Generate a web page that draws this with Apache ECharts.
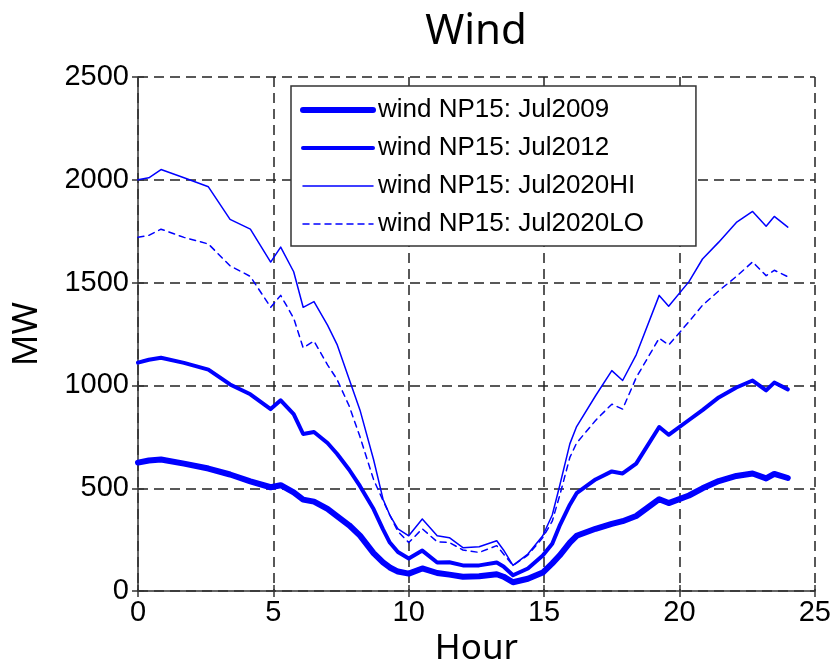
<!DOCTYPE html>
<html>
<head>
<meta charset="utf-8">
<title>Wind</title>
<script src="https://cdn.jsdelivr.net/npm/echarts@6/dist/echarts.min.js"></script>
<style>
	html, body {margin: 0; padding: 0; background: #fff;}
	#chart {width: 834px; height: 672px;}
</style>
</head>
<body>
<div id="chart"></div>
<script>
// hour of day (x)
var hours = [0, 0.4, 0.85, 1.7, 2.6, 3.4, 4.15, 4.9, 5.27, 5.75, 6.1, 6.5, 7.0, 7.35, 7.8, 8.2, 8.7, 9.05, 9.3, 9.6,
	10.0, 10.5, 11.05, 11.5, 12.0, 12.6, 13.25, 13.5, 13.85, 14.4, 14.95, 15.3, 15.57, 15.95, 16.2, 16.9, 17.5, 17.9, 18.4,
	19.25, 19.6, 20.35, 20.85, 21.45, 22.1, 22.7, 23.2, 23.5, 24.0];

// MW per series
var jul2009 = [625, 635, 640, 620, 596, 567, 534, 505, 515, 480, 445, 435, 400, 365, 320, 270, 185, 140, 115, 95,
	85, 110, 88, 80, 70, 72, 82, 70, 43, 60, 90, 135, 173, 236, 269, 303, 327, 340, 365,
	447, 428, 465, 500, 535, 560, 572, 548, 570, 550];
var jul2012 = [1111, 1125, 1135, 1110, 1077, 1005, 957, 885, 928, 861, 764, 774, 720, 668, 590, 510, 399, 300, 236, 190,
	159, 197, 139, 140, 125, 125, 139, 120, 77, 110, 173, 230, 317, 420, 476, 543, 582, 572, 620,
	798, 760, 832, 880, 942, 990, 1024, 976, 1014, 981];
var jul2020hi = [2000, 2010, 2050, 2010, 1966, 1808, 1760, 1600, 1673, 1553, 1380, 1408, 1293, 1200, 1030, 880, 640, 447, 370, 303,
	269, 351, 269, 260, 211, 216, 245, 200, 125, 180, 269, 370, 510, 716, 800, 950, 1072, 1024, 1149,
	1438, 1385, 1505, 1615, 1697, 1793, 1846, 1774, 1822, 1770];
var jul2020lo = [1721, 1730, 1760, 1720, 1688, 1582, 1530, 1380, 1438, 1327, 1183, 1216, 1100, 1030, 900, 750, 543, 440, 370, 290,
	236, 303, 240, 236, 200, 188, 221, 180, 125, 175, 260, 340, 462, 650, 720, 830, 909, 885, 1038,
	1230, 1197, 1310, 1390, 1460, 1530, 1601, 1534, 1560, 1529];

var names = ['wind NP15: Jul2009', 'wind NP15: Jul2012', 'wind NP15: Jul2020HI', 'wind NP15: Jul2020LO'];
var xTicks = [0, 5, 10, 15, 20, 25];
var yTicks = [0, 500, 1000, 1500, 2000, 2500];

var widths = [6, 4, 1.5, 1.5];
var types = ['solid', 'solid', 'solid', [6, 5]];

function pairs(ys) {
	return hours.map(function (h, i) { return [h, ys[i]]; });
}

function line(i, ys) {
	return {
		name: names[i],
		type: 'line',
		data: pairs(ys),
		symbol: 'none',
		lineStyle: {color: '#0000ff', width: widths[i], type: types[i], cap: 'round', join: 'round'},
		itemStyle: {color: '#0000ff'}
	};
}

var gridLine = {show: true, lineStyle: {color: '#222', type: [10, 6], width: 1.5}};
var tickFont = {color: '#000', fontFamily: 'Liberation Sans', fontSize: 29};
var innerTick = {show: true, inside: true, length: 6, lineStyle: {color: '#333', width: 1.5}};

var chart = echarts.init(document.getElementById('chart'));
chart.setOption({
	animation: false,
	backgroundColor: '#fff',
	title: {
		text: 'Wind', left: 471, top: 6, textAlign: 'center',
		textStyle: {fontFamily: 'Noto Sans', fontSize: 42, fontWeight: 'normal', color: '#000'}
	},
	grid: {left: 138, right: 18, top: 77, bottom: 76},
	legend: {
		orient: 'vertical', left: 291, top: 86,
		backgroundColor: '#fff', borderColor: '#333', borderWidth: 1.5,
		padding: [9, 52, 7, 9],
		itemWidth: 70, itemHeight: 14, itemGap: 8,
		// hide the marker, keep only the line sample
		itemStyle: {color: 'transparent', borderWidth: 0, opacity: 0},
		data: names.map(function (n, i) {
			return {name: n, lineStyle: {color: '#0000ff', width: widths[i], type: types[i], cap: 'round'}};
		}),
		textStyle: {fontFamily: 'Liberation Sans', fontSize: 26, color: '#000', lineHeight: 30}
	},
	xAxis: [{
		type: 'value', min: 0, max: 25, interval: 5,
		name: 'Hour', nameLocation: 'middle', nameGap: 38,
		nameTextStyle: {fontFamily: 'Noto Sans', fontSize: 35, color: '#000'},
		axisLine: {show: true, lineStyle: {color: '#333', width: 1.5}},
		axisTick: innerTick,
		axisLabel: Object.assign({margin: 7, formatter: function (v) { return xTicks.indexOf(v) >= 0 ? v : ''; }}, tickFont),
		splitLine: gridLine
	}, {
		type: 'value', position: 'top', min: 0, max: 25, interval: 5,
		axisLine: {show: false},
		axisTick: innerTick,
		axisLabel: {show: false},
		splitLine: {show: false}
	}],
	yAxis: [{
		type: 'value', min: 0, max: 2500, interval: 500,
		name: 'MW', nameLocation: 'middle', nameGap: 93,
		nameTextStyle: {fontFamily: 'Noto Sans', fontSize: 35, color: '#000'},
		axisLine: {show: true, lineStyle: {color: '#333', width: 1.5}},
		axisTick: innerTick,
		axisLabel: Object.assign({margin: 9, formatter: function (v) { return yTicks.indexOf(v) >= 0 ? v : ''; }}, tickFont),
		splitLine: gridLine
	}, {
		type: 'value', position: 'right', min: 0, max: 2500, interval: 500,
		axisLine: {show: false},
		axisTick: innerTick,
		axisLabel: {show: false},
		splitLine: {show: false}
	}],
	series: [
		line(0, jul2009),
		line(1, jul2012),
		line(2, jul2020hi),
		line(3, jul2020lo)
	]
});
</script>
</body>
</html>
